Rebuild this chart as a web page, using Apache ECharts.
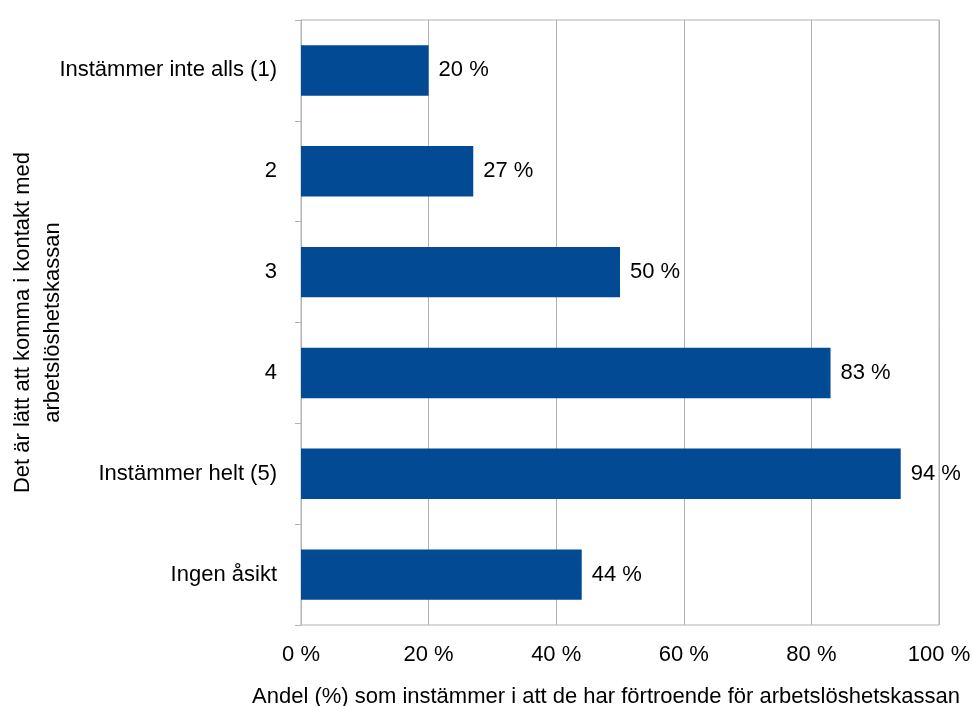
<!DOCTYPE html>
<html>
<head>
<meta charset="utf-8">
<script src="https://cdn.jsdelivr.net/npm/echarts@6/dist/echarts.min.js"></script>
<style>
  html, body { margin: 0; padding: 0; background: #fff; }
  #chart { width: 973px; height: 706px; }
</style>
</head>
<body>
<div id="chart"></div>
<script>
// Response categories, top to bottom
const categories = [
  'Instämmer inte alls (1)',
  '2',
  '3',
  '4',
  'Instämmer helt (5)',
  'Ingen åsikt'
];
// Share (%) who trust the unemployment fund, per response
const values = [20, 27, 50, 83, 94, 44];

const xAxisTitle = 'Andel (%) som instämmer i att de har förtroende för arbetslöshetskassan';
const yAxisTitle = 'Det är lätt att komma i kontakt med\narbetslöshetskassan';

const FONT = '"Liberation Sans", Arial, sans-serif';
const FS = 22;
const GRID_COLOR = '#b3b3b3';

const chart = echarts.init(document.getElementById('chart'), null, { renderer: 'canvas' });
chart.setOption({
  animation: false,
  textStyle: { fontFamily: FONT },
  grid: {
    left: 301, right: 34, top: 20, bottom: 81,
    containLabel: false,
    outerBoundsMode: 'none',
    show: true, borderColor: GRID_COLOR, borderWidth: 1
  },
  xAxis: {
    type: 'value',
    min: 0, max: 100, interval: 20,
    axisLine: { show: false },
    axisTick: { show: false },
    splitLine: { lineStyle: { color: GRID_COLOR, width: 1 } },
    axisLabel: {
      formatter: v => v + ' %',
      color: '#000', fontSize: FS, margin: 19, fontFamily: FONT
    },
    name: xAxisTitle,
    nameLocation: 'middle',
    nameGap: 61,
    nameTextStyle: { color: '#000', fontSize: FS, fontFamily: FONT, padding: [0, 28, 0, 0] }
  },
  yAxis: {
    type: 'category',
    data: categories,
    inverse: true,
    axisLine: { show: true, lineStyle: { color: GRID_COLOR } },
    axisTick: { show: true, length: 6, lineStyle: { color: GRID_COLOR } },
    splitLine: { show: false },
    axisLabel: { color: '#000', fontSize: FS, margin: 24, fontFamily: FONT },
    name: yAxisTitle,
    nameLocation: 'middle',
    nameGap: 263,
    nameMoveOverlap: false,
    nameRotate: 90,
    nameTextStyle: { color: '#000', fontSize: FS, fontFamily: FONT, lineHeight: 30, align: 'center', verticalAlign: 'middle' }
  },
  series: [{
    type: 'bar',
    data: values,
    barCategoryGap: '50%',
    itemStyle: { color: '#024a94' },
    label: {
      show: true,
      position: 'right',
      distance: 10,
      formatter: p => p.value + ' %',
      color: '#000', fontSize: FS, fontFamily: FONT
    }
  }]
});
</script>
</body>
</html>
